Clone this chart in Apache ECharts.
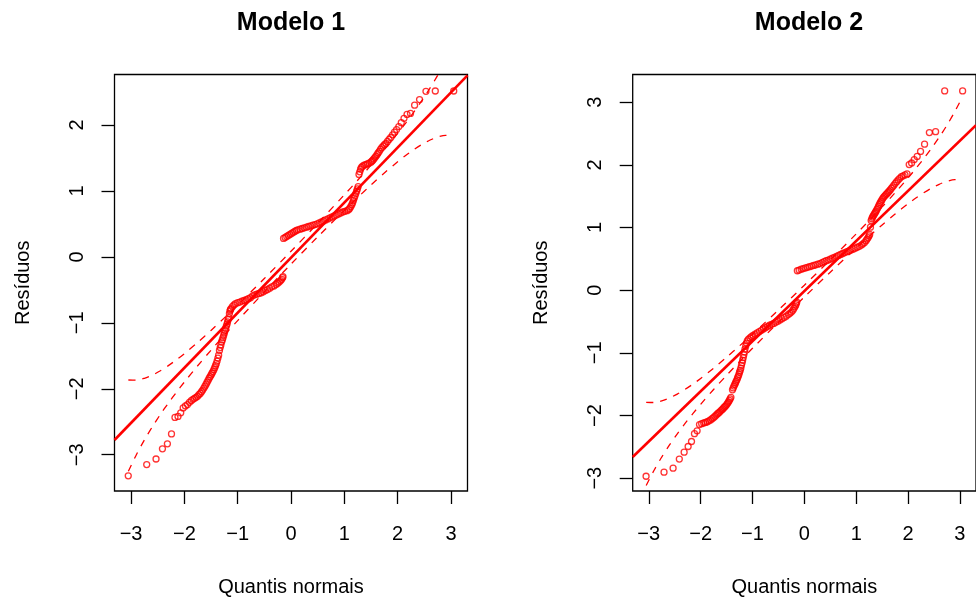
<!DOCTYPE html>
<html>
<head>
<meta charset="utf-8">
<script src="https://cdn.jsdelivr.net/npm/echarts@6/dist/echarts.min.js"></script>
<style>
html,body{margin:0;padding:0;background:#fff;}
#chart{width:976px;height:602px;}
</style>
</head>
<body>
<div id="chart"></div>
<script>
// ---------- DATA ----------
const titles = ['Modelo 1', 'Modelo 2'];
const xName = 'Quantis normais';
const yName = 'Resíduos';
const xTicks = [-3, -2, -1, 0, 1, 2, 3];
const yTicks1 = [-3, -2, -1, 0, 1, 2];
const yTicks2 = [-3, -2, -1, 0, 1, 2, 3];

// Modelo 1: theoretical quantiles and sorted residuals
const qx1 = [-3.052,-2.706,-2.531,-2.411,-2.318,-2.241,-2.176,-2.119,-2.068,-2.022,-1.98,-1.941,-1.905,-1.871,-1.839,-1.809,-1.78,-1.753,-1.727,-1.702,-1.678,-1.656,-1.634,-1.613,-1.592,-1.573,-1.553,-1.534,-1.516,-1.498,-1.481,-1.464,-1.447,-1.431,-1.416,-1.401,-1.386,-1.371,-1.357,-1.342,-1.328,-1.315,-1.301,-1.288,-1.275,-1.262,-1.25,-1.237,-1.225,-1.213,-1.2,-1.19,-1.178,-1.167,-1.155,-1.145,-1.135,
-1.125,-1.1,-1.07,-1.04,-1.0,-0.96,-0.92,-0.88,-0.84,-0.8,-0.76,-0.72,-0.68,-0.64,-0.6,-0.56,-0.52,-0.48,-0.44,-0.4,-0.36,-0.32,-0.28,-0.25,-0.22,-0.195,-0.175,-0.16,-0.15,
-0.14,-0.11,-0.08,-0.05,-0.02,0.01,0.04,0.07,0.1,0.13,0.17,0.21,0.25,0.29,0.33,0.37,0.41,0.45,0.49,0.53,0.57,0.61,0.65,0.69,0.73,0.77,0.81,0.85,0.89,0.93,0.97,1.01,1.05,1.08,1.1,1.12,1.14,1.155,1.17,1.185,1.2,1.215,1.23,1.245,1.26,
1.275,1.29,1.305,1.32,1.342,1.371,1.401,1.431,1.464,1.498,1.516,1.534,1.553,1.573,1.592,1.613,1.634,1.656,1.678,1.702,1.727,1.753,1.78,1.809,1.839,1.871,1.905,1.941,1.98,2.022,2.068,2.119,2.176,2.241,2.318,2.411,2.531,2.706,3.052];
const res1 = [-3.32,-3.15,-3.065,-2.91,-2.835,-2.685,-2.435,-2.42,-2.365,-2.29,-2.26,-2.24,-2.205,-2.18,-2.16,-2.145,-2.13,-2.115,-2.09,-2.07,-2.045,-2.02,-1.99,-1.96,-1.93,-1.9,-1.87,-1.84,-1.815,-1.79,-1.765,-1.74,-1.71,-1.68,-1.65,-1.62,-1.58,-1.535,-1.49,-1.42,-1.375,-1.335,-1.29,-1.26,-1.225,-1.19,-1.155,-1.12,-1.085,-1.05,-1.02,-0.985,-0.95,-0.92,-0.86,-0.82,-0.80,
-0.785,-0.755,-0.73,-0.71,-0.695,-0.685,-0.67,-0.66,-0.65,-0.635,-0.62,-0.59,-0.575,-0.565,-0.555,-0.545,-0.53,-0.51,-0.495,-0.475,-0.455,-0.44,-0.42,-0.40,-0.38,-0.36,-0.34,-0.315,-0.30,
0.28,0.295,0.31,0.325,0.34,0.355,0.37,0.385,0.40,0.41,0.42,0.43,0.44,0.45,0.46,0.47,0.48,0.49,0.50,0.515,0.53,0.545,0.56,0.575,0.59,0.605,0.62,0.635,0.65,0.665,0.68,0.69,0.70,0.715,0.735,0.76,0.79,0.82,0.855,0.89,0.925,0.96,0.995,1.03,1.065,
1.25,1.29,1.33,1.355,1.375,1.39,1.40,1.41,1.42,1.435,1.45,1.465,1.485,1.505,1.525,1.55,1.575,1.60,1.63,1.655,1.68,1.70,1.72,1.75,1.78,1.81,1.85,1.89,1.93,1.975,2.035,2.10,2.16,2.175,2.30,2.385,2.51,2.515,2.515];

// Modelo 2
const qx2 = [-3.052,-2.706,-2.531,-2.411,-2.318,-2.241,-2.176,-2.119,-2.068,-2.022,-1.98,-1.941,-1.905,-1.871,-1.839,-1.809,-1.78,-1.753,-1.727,-1.702,-1.678,-1.656,-1.634,-1.613,-1.592,-1.573,-1.553,-1.534,-1.516,-1.498,-1.481,-1.464,-1.447,-1.431,-1.416,-1.386,-1.371,-1.357,-1.342,-1.328,-1.315,-1.301,-1.288,-1.275,-1.262,-1.25,-1.237,-1.225,-1.213,-1.2,-1.19,-1.178,-1.167,-1.155,-1.145,-1.13,-1.115,-1.1,
-1.08,-1.05,-1.02,-0.99,-0.95,-0.91,-0.87,-0.83,-0.79,-0.75,-0.71,-0.67,-0.63,-0.59,-0.55,-0.51,-0.47,-0.43,-0.39,-0.35,-0.31,-0.28,-0.25,-0.22,-0.2,-0.18,-0.165,-0.155,-0.145,
-0.135,-0.1,-0.06,-0.02,0.02,0.06,0.1,0.14,0.18,0.22,0.26,0.3,0.34,0.38,0.42,0.46,0.5,0.54,0.58,0.62,0.66,0.7,0.74,0.78,0.82,0.86,0.9,0.94,0.98,1.02,1.06,1.1,1.13,1.16,1.19,1.21,1.23,1.245,1.26,
1.275,1.288,1.301,1.315,1.328,1.342,1.357,1.371,1.386,1.401,1.416,1.431,1.447,1.464,1.481,1.498,1.516,1.534,1.553,1.573,1.592,1.613,1.634,1.656,1.678,1.702,1.727,1.753,1.78,1.809,1.839,1.871,1.905,1.941,1.98,2.022,2.068,2.119,2.176,2.241,2.318,2.411,2.531,2.706,3.052];
const res2 = [-2.97,-2.905,-2.84,-2.695,-2.585,-2.495,-2.415,-2.29,-2.245,-2.145,-2.13,-2.12,-2.11,-2.10,-2.085,-2.07,-2.05,-2.035,-2.015,-1.995,-1.975,-1.96,-1.945,-1.925,-1.91,-1.895,-1.875,-1.86,-1.845,-1.825,-1.805,-1.785,-1.76,-1.735,-1.71,-1.59,-1.56,-1.53,-1.505,-1.48,-1.455,-1.43,-1.40,-1.375,-1.345,-1.31,-1.28,-1.245,-1.20,-1.16,-1.12,-1.075,-1.03,-0.985,-0.94,-0.89,-0.845,-0.81,
-0.785,-0.76,-0.74,-0.72,-0.70,-0.68,-0.66,-0.64,-0.62,-0.60,-0.58,-0.56,-0.545,-0.53,-0.51,-0.495,-0.475,-0.455,-0.435,-0.415,-0.39,-0.37,-0.35,-0.32,-0.29,-0.26,-0.235,-0.21,-0.19,
0.31,0.32,0.335,0.345,0.355,0.365,0.375,0.385,0.395,0.405,0.415,0.425,0.44,0.455,0.47,0.48,0.495,0.51,0.525,0.54,0.555,0.57,0.585,0.60,0.615,0.625,0.64,0.655,0.67,0.685,0.70,0.72,0.74,0.76,0.79,0.815,0.84,0.865,0.89,
1.005,1.11,1.14,1.165,1.185,1.205,1.225,1.245,1.265,1.29,1.315,1.34,1.37,1.395,1.42,1.445,1.47,1.49,1.505,1.525,1.54,1.56,1.58,1.60,1.625,1.65,1.675,1.705,1.73,1.76,1.785,1.81,1.825,1.84,1.855,2.005,2.03,2.085,2.135,2.215,2.33,2.515,2.53,3.18,3.18];

// Reference lines: [intercept, slope]
const line1 = [-0.0125, 0.835];
const line2 = [-0.015, 0.80];

// Confidence envelopes
const envX = [-3.05,-2.9,-2.75,-2.6,-2.45,-2.3,-2.15,-2.0,-1.75,-1.5,-1.25,-1.0,-0.5,0,0.5,1.0,1.25,1.5,1.75,2.0,2.15,2.3,2.45,2.6,2.75,2.9,3.05];
const env1Up = [-1.867,-1.868,-1.841,-1.793,-1.727,-1.649,-1.562,-1.468,-1.297,-1.115,-0.925,-0.730,-0.328,0.085,0.507,0.940,1.162,1.390,1.626,1.873,2.029,2.192,2.364,2.550,2.751,2.975,3.226];
const env1Lo = [-3.251,-3.000,-2.777,-2.575,-2.389,-2.217,-2.054,-1.899,-1.651,-1.415,-1.187,-0.966,-0.532,-0.110,0.303,0.705,0.900,1.090,1.272,1.442,1.537,1.624,1.702,1.768,1.816,1.843,1.842];
const env2Up = [-1.792,-1.793,-1.767,-1.720,-1.658,-1.583,-1.500,-1.409,-1.245,-1.071,-0.889,-0.702,-0.317,0.079,0.483,0.898,1.111,1.329,1.555,1.792,1.941,2.097,2.262,2.440,2.633,2.847,3.088];
const env2Lo = [-3.118,-2.877,-2.663,-2.470,-2.292,-2.127,-1.971,-1.822,-1.585,-1.359,-1.141,-0.928,-0.513,-0.109,0.287,0.672,0.859,1.041,1.215,1.379,1.470,1.553,1.628,1.690,1.737,1.763,1.762];

// ---------- CHART ----------
const FONT = 'Liberation Sans, Arial, Helvetica, sans-serif';
const RED = '#ff0000';
const xRange = [-3.31, 3.31];
const yRange1 = [-3.55, 2.765];
const yRange2 = [-3.205, 3.442];
const fmt = v => String(v).replace('-', '\u2212');

function zip(a, b) { return a.map((v, i) => [v, b[i]]); }
function refLine(c) { return [[xRange[0], c[0] + c[1] * xRange[0]], [xRange[1], c[0] + c[1] * xRange[1]]]; }

function xAxisDef(gi) {
  return {
    gridIndex: gi, type: 'value', min: xRange[0], max: xRange[1],
    axisLine: { show: false, onZero: false }, splitLine: { show: false },
    axisTick: { show: true, inside: false, length: 13, customValues: xTicks, lineStyle: { color: '#000', width: 1.3 } },
    axisLabel: { customValues: xTicks, margin: 33, fontSize: 20, color: '#000', fontFamily: FONT, formatter: fmt },
    name: xName, nameLocation: 'middle', nameGap: 86,
    nameTextStyle: { fontSize: 20, color: '#000', fontFamily: FONT }
  };
}
function yAxisDef(gi, r, ticks) {
  return {
    gridIndex: gi, type: 'value', min: r[0], max: r[1],
    axisLine: { show: false, onZero: false }, splitLine: { show: false },
    axisTick: { show: true, inside: false, length: 13, customValues: ticks, lineStyle: { color: '#000', width: 1.3 } },
    axisLabel: { customValues: ticks, rotate: 90, margin: 27, fontSize: 20, color: '#000', fontFamily: FONT, formatter: fmt },
    name: yName, nameLocation: 'middle', nameRotate: 90, nameGap: 81,
    nameTextStyle: { fontSize: 20, color: '#000', fontFamily: FONT }
  };
}
function panelSeries(i, qx, res, coef, up, lo) {
  const base = { xAxisIndex: i, yAxisIndex: i };
  return [
    Object.assign({ type: 'scatter', data: zip(qx, res), symbol: 'circle', symbolSize: 6,
      itemStyle: { color: 'transparent', borderColor: RED, borderWidth: 1.3 }, silent: true }, base),
    Object.assign({ type: 'line', data: refLine(coef), symbol: 'none', clip: true,
      lineStyle: { color: RED, width: 2.6 } }, base),
    Object.assign({ type: 'line', data: zip(envX, up), symbol: 'none', smooth: 0.3, clip: true,
      lineStyle: { color: RED, width: 1.3, type: [7, 7] } }, base),
    Object.assign({ type: 'line', data: zip(envX, lo), symbol: 'none', smooth: 0.3, clip: true,
      lineStyle: { color: RED, width: 1.3, type: [7, 7] } }, base)
  ];
}

const chart = echarts.init(document.getElementById('chart'), null, { renderer: 'canvas' });
chart.setOption({
  animation: false,
  backgroundColor: '#fff',
  title: [
    { text: titles[0], left: 291, top: 11, padding: 0, textAlign: 'center', textStyle: { fontSize: 25, fontWeight: 'bold', color: '#000', fontFamily: FONT } },
    { text: titles[1], left: 809, top: 11, padding: 0, textAlign: 'center', textStyle: { fontSize: 25, fontWeight: 'bold', color: '#000', fontFamily: FONT } }
  ],
  grid: [
    { left: 114.5, top: 74.5, width: 353, height: 420.5, show: true, borderColor: '#000', borderWidth: 1.3, backgroundColor: 'transparent', containLabel: false },
    { left: 632.7, top: 74.5, width: 353, height: 420.5, show: true, borderColor: '#000', borderWidth: 1.3, backgroundColor: 'transparent', containLabel: false }
  ],
  xAxis: [xAxisDef(0), xAxisDef(1)],
  yAxis: [yAxisDef(0, yRange1, yTicks1), yAxisDef(1, yRange2, yTicks2)],
  series: [].concat(
    panelSeries(0, qx1, res1, line1, env1Up, env1Lo),
    panelSeries(1, qx2, res2, line2, env2Up, env2Lo)
  )
});
</script>
</body>
</html>
